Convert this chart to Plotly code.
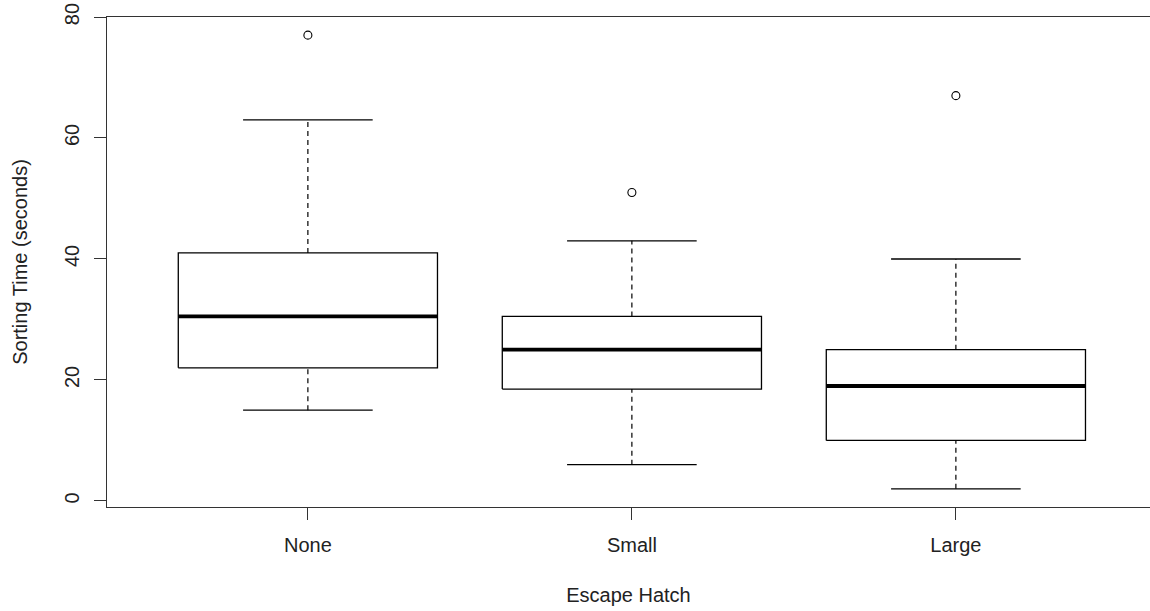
import plotly.graph_objects as go

groups = ["None", "Small", "Large"]
q1 = [22, 18.5, 10]
median = [30.5, 25, 19]
q3 = [41, 30.5, 25]
lower_whisker = [15, 6, 2]
upper_whisker = [63, 43, 40]
outliers = [[77], [51], [67]]
y_ticks = [0, 20, 40, 60, 80]

BOX_HALF = 0.4
CAP_HALF = 0.2
FONT = "Liberation Sans, Arial, sans-serif"

fig = go.Figure()
for i, g in enumerate(groups):
    x = i + 1
    # whiskers (dashed)
    fig.add_trace(go.Scatter(x=[x, x], y=[q3[i], upper_whisker[i]], mode="lines",
                             line=dict(color="black", width=1.2, dash="5px,4px"), hoverinfo="skip"))
    fig.add_trace(go.Scatter(x=[x, x], y=[lower_whisker[i], q1[i]], mode="lines",
                             line=dict(color="black", width=1.2, dash="5px,4px"), hoverinfo="skip"))
    # caps
    fig.add_trace(go.Scatter(x=[x - CAP_HALF, x + CAP_HALF], y=[upper_whisker[i]] * 2, mode="lines",
                             line=dict(color="black", width=1.3), hoverinfo="skip"))
    fig.add_trace(go.Scatter(x=[x - CAP_HALF, x + CAP_HALF], y=[lower_whisker[i]] * 2, mode="lines",
                             line=dict(color="black", width=1.3), hoverinfo="skip"))
    # box
    fig.add_trace(go.Scatter(x=[x - BOX_HALF, x + BOX_HALF, x + BOX_HALF, x - BOX_HALF, x - BOX_HALF],
                             y=[q1[i], q1[i], q3[i], q3[i], q1[i]], mode="lines",
                             line=dict(color="black", width=1.3), hoverinfo="skip"))
    # median
    fig.add_trace(go.Scatter(x=[x - BOX_HALF, x + BOX_HALF], y=[median[i]] * 2, mode="lines",
                             line=dict(color="black", width=3.8), hoverinfo="skip"))
    # outliers
    fig.add_trace(go.Scatter(x=[x] * len(outliers[i]), y=outliers[i], mode="markers",
                             marker=dict(symbol="circle-open", size=8, color="black",
                                         line=dict(width=1.1, color="black")), hoverinfo="skip"))

fig.update_layout(
    width=1150, height=611,
    margin=dict(l=107, r=0, t=17, b=104),
    paper_bgcolor="white", plot_bgcolor="white",
    showlegend=False,
    font=dict(family=FONT, size=20, color="#222222"),
)
fig.update_xaxes(
    range=[0.38, 0.38 + 1043 / 324],
    automargin=False,
    tickmode="array", tickvals=[1, 2, 3], ticktext=groups,
    ticks="outside", ticklen=12, tickcolor="#333333", tickwidth=1.3,
    showline=True, linecolor="#333333", linewidth=1.3, mirror=True,
    showgrid=False, zeroline=False,
    ticklabelstandoff=8, ticklabeloverflow="allow",
    title=dict(text="Escape Hatch", standoff=32, font=dict(size=20)),
    tickfont=dict(size=20),
)
fig.update_yaxes(
    range=[-1, 80],
    automargin=False,
    tickmode="array", tickvals=y_ticks, ticktext=[str(v) for v in y_ticks],
    tickangle=-90,
    ticks="outside", ticklen=12, tickcolor="#333333", tickwidth=1.3,
    showline=True, linecolor="#333333", linewidth=1.3, mirror=False,
    showgrid=False, zeroline=False,
    ticklabelstandoff=7, ticklabeloverflow="allow",
    title=dict(text="Sorting Time (seconds)", standoff=27, font=dict(size=20)),
    tickfont=dict(size=20),
)

# remove the browser's default 8px body margin so the figure fills the window exactly
fig.write_html(
    "out.html",
    config={"displayModeBar": False},
    post_script="document.body.style.margin='0';document.body.style.overflow='hidden';",
)
